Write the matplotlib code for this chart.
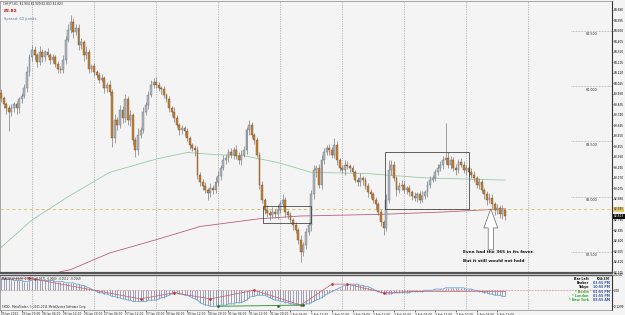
import matplotlib.pyplot as plt
from matplotlib.patches import Rectangle, Polygon
from matplotlib.transforms import blended_transform_factory
import numpy as np

# CHFJPY H1, bar 0 = 25 Jan 2012 12:00 ... bar 195 = 6 Feb 2012 15:00
first_open = 83.94
closes = [
    83.89, 83.84, 83.80, 83.77, 83.80, 83.84, 83.80, 83.88, 83.91, 83.98, 84.13, 84.26,
    84.33, 84.28, 84.22, 84.31, 84.26, 84.31, 84.28, 84.24, 84.26, 84.20, 84.16, 84.15,
    84.24, 84.42, 84.51, 84.58, 84.49, 84.53, 84.37, 84.40, 84.28, 84.31, 84.16, 84.18,
    84.13, 84.10, 84.06, 84.07, 83.98, 84.01, 83.95, 83.53, 83.69, 83.65, 83.78, 83.71,
    83.88, 83.69, 83.74, 83.51, 83.42, 83.56, 83.60, 83.77, 83.83, 83.92, 84.01, 84.04,
    84.01, 83.98, 83.97, 83.92, 83.88, 83.80, 83.77, 83.71, 83.65, 83.60, 83.62, 83.59,
    83.53, 83.47, 83.44, 83.42, 83.20, 83.13, 83.10, 83.06, 83.03, 83.08, 83.06, 83.13,
    83.19, 83.26, 83.33, 83.35, 83.40, 83.38, 83.42, 83.37, 83.33, 83.38, 83.42, 83.60,
    83.65, 83.56, 83.51, 83.38, 83.11, 82.97, 82.88, 82.85, 82.83, 82.86, 82.84, 82.88,
    82.93, 82.97, 82.86, 82.83, 82.79, 82.74, 82.70, 82.61, 82.50, 82.56, 82.68, 82.74,
    83.02, 83.24, 83.26, 83.11, 83.33, 83.40, 83.44, 83.42, 83.38, 83.47, 83.33, 83.26,
    83.24, 83.29, 83.28, 83.26, 83.22, 83.15, 83.13, 83.17, 83.15, 83.10, 83.04, 83.02,
    82.97, 82.93, 82.86, 82.77, 82.72, 82.97, 83.24, 83.29, 83.17, 83.06, 83.10, 83.11,
    83.06, 83.08, 83.04, 83.01, 82.99, 83.02, 82.97, 83.01, 83.04, 83.11, 83.15, 83.17,
    83.22, 83.26, 83.29, 83.33, 83.35, 83.29, 83.33, 83.26, 83.24, 83.31, 83.29, 83.24,
    83.26, 83.22, 83.20, 83.17, 83.11, 83.13, 83.06, 83.02, 82.97, 82.99, 82.93, 82.88,
    82.90, 82.84, 82.88, 82.823,
]
# wicks beyond the body, in pips (0.01)
upper_wick = [
    3, 2, 2, 3, 4, 2, 3, 2, 3, 4, 5, 3,  4, 3, 2, 5, 3, 2, 4, 2, 3, 2, 3, 2,
    4, 3, 5, 6, 4, 3, 3, 4, 2, 5, 3, 2,  3, 2, 3, 4, 2, 3, 5, 2, 6, 3, 5, 4,
    5, 3, 4, 2, 3, 6, 3, 4, 3, 4, 5, 3,  4, 3, 2, 3, 2, 3, 2, 4, 3, 2, 3, 2,
    3, 2, 2, 3, 4, 2, 3, 3, 2, 4, 3, 5,  4, 3, 5, 4, 3, 4, 3, 5, 3, 4, 4, 3,
    4, 3, 2, 3, 2, 3, 2, 4, 3, 5, 3, 4,  3, 5, 3, 2, 3, 2, 3, 2, 4, 3, 4, 3,
    4, 5, 3, 4, 5, 4, 3, 4, 3, 6, 3, 2,  3, 4, 3, 2, 3, 2, 3, 4, 2, 3, 2, 3,
    2, 3, 2, 3, 2, 5, 9, 4, 3, 2, 3, 4,  3, 2, 3, 2, 3, 2, 3, 4, 2, 3, 4, 3,
    3, 4, 3, 4, 32, 5, 4, 3, 4, 3, 4, 3, 3, 2, 4, 3, 2, 4, 3, 2, 3, 4, 3, 2,
    3, 2, 4, 2,
]
lower_wick = [
    3, 4, 5, 18, 4, 3, 5, 4, 3, 2, 3, 4,  3, 4, 5, 3, 4, 3, 2, 4, 3, 3, 4, 3,
    3, 4, 2, 3, 5, 3, 4, 3, 5, 3, 4, 3,  4, 3, 3, 2, 4, 3, 3, 8, 4, 5, 3, 4,
    3, 4, 5, 4, 6, 4, 3, 2, 3, 4, 2, 3,  3, 2, 4, 3, 2, 3, 4, 3, 2, 4, 3, 4,
    3, 4, 3, 5, 4, 3, 4, 3, 6, 3, 4, 3,  3, 4, 2, 3, 4, 3, 4, 3, 3, 4, 2, 3,
    4, 3, 3, 2, 4, 3, 4, 3, 4, 2, 3, 4,  3, 2, 4, 3, 3, 4, 3, 4, 9, 4, 3, 3,
    5, 4, 6, 3, 4, 3, 2, 4, 3, 3, 4, 3,  3, 4, 3, 4, 3, 2, 3, 3, 4, 3, 4, 3,
    3, 4, 3, 4, 7, 3, 3, 4, 3, 5, 3, 4,  3, 4, 3, 4, 3, 4, 3, 2, 3, 4, 3, 2,
    3, 2, 3, 4, 3, 3, 4, 3, 4, 3, 2, 3,  4, 3, 3, 4, 3, 4, 3, 4, 5, 3, 4, 5,
    4, 3, 4, 3,
]

# moving averages (bar index, price)
ma_fast_bars = [0, 12, 26, 42, 60, 72, 83, 94, 107, 120, 141, 164, 195]
ma_fast_vals = [82.54, 82.79, 83.00, 83.22, 83.34, 83.40, 83.38, 83.37, 83.31, 83.22, 83.21, 83.17, 83.15]
ma_slow_bars = [0, 23, 27, 42, 60, 77, 100, 116, 147, 170, 195]
ma_slow_vals = [82.05, 82.32, 82.34, 82.49, 82.61, 82.73, 82.80, 82.825, 82.84, 82.86, 82.89]

# MACD histogram per bar
macd = [
    0.10, 0.10, 0.09, 0.09, 0.09, 0.08, 0.08, 0.08,
    0.08, 0.07, 0.07, 0.08, 0.08, 0.09, 0.09, 0.08, 0.08, 0.08, 0.08, 0.08,
    0.08, 0.07, 0.07, 0.07, 0.07, 0.06, 0.06, 0.06,
    0.06, 0.05, 0.05, 0.04, 0.04, 0.03,
    0.02, 0.01, 0.00, -0.01, -0.02,
    -0.02, -0.03, -0.03, -0.04, -0.05, -0.05, -0.06, -0.06,
    -0.07, -0.07, -0.08, -0.08, -0.09, -0.09, -0.09, -0.09,
    -0.09, -0.09, -0.08, -0.08, -0.08, -0.08,
    -0.07, -0.06, -0.06, -0.05, -0.04, -0.03, -0.02,
    -0.02, -0.03, -0.03, -0.04, -0.04, -0.05,
    -0.06, -0.07, -0.08, -0.10, -0.11, -0.12, -0.12, -0.13,
    -0.13, -0.13, -0.13, -0.12, -0.12, -0.12,
    -0.11, -0.11, -0.11, -0.10, -0.10, -0.10,
    -0.09, -0.08, -0.06, -0.05, -0.05,
    -0.04, -0.04, -0.04, -0.04,
    -0.05, -0.06, -0.07, -0.08, -0.08, -0.09,
    -0.09, -0.10, -0.10, -0.11, -0.11, -0.12, -0.12, -0.12,
    -0.12, -0.11, -0.11, -0.10, -0.09, -0.08,
    -0.07, -0.06, -0.05, -0.03, -0.02,
    -0.01, 0.00, 0.01, 0.02, 0.03, 0.04,
    0.04, 0.05, 0.05, 0.05,
    0.05, 0.04, 0.04, 0.03, 0.03, 0.02,
    0.01, 0.00, -0.01, -0.02, -0.02, -0.03,
    -0.03, -0.03, -0.02, -0.02, -0.02, -0.02,
    -0.02, -0.02, -0.02, -0.01, -0.01, -0.01, -0.01,
    -0.01, 0.00, 0.00, 0.00, 0.00, 0.01, 0.01, 0.01,
    0.01, 0.02, 0.02, 0.02, 0.02, 0.02, 0.02, 0.02,
    0.02, 0.01, 0.01, 0.01, 0.00, 0.00,
    -0.01, -0.01, -0.02, -0.02, -0.03, -0.03,
    -0.04, -0.04, -0.04, -0.05, -0.05,
]
zig_bars = [0, 11, 13, 54, 67, 81, 98, 116, 128, 134, 148, 160, 195]
zig_vals = [0.09, 0.10, 0.09, -0.07, -0.02, -0.07, 0.00, -0.12, 0.05, 0.05, -0.02, -0.01, -0.01]

day_starts = [12, 36, 60, 84, 108, 132, 156, 180, 204]
date_bars = list(range(0, 196, 8))
date_labels = ['25 Jan 2012', '25 Jan 20:00', '26 Jan 04:00', '26 Jan 12:00', '26 Jan 20:00',
               '27 Jan 04:00', '27 Jan 12:00', '27 Jan 20:00', '30 Jan 04:00', '30 Jan 12:00',
               '30 Jan 20:00', '31 Jan 04:00', '31 Jan 12:00', '31 Jan 20:00', '1 Feb 04:00',
               '1 Feb 12:00', '1 Feb 20:00', '2 Feb 04:00', '2 Feb 12:00', '2 Feb 20:00',
               '3 Feb 04:00', '3 Feb 12:00', '3 Feb 20:00', '6 Feb 04:00', '6 Feb 12:00']
round_levels = [84.5, 84.0, 83.5, 83.0, 82.5]
ask_line = 82.885

W, H = 625, 315
fig = plt.figure(figsize=(W / 100, H / 100), dpi=100)
fig.patch.set_facecolor('#f4f4f4')
ax = fig.add_axes([0, 1 - 273 / H, 612 / W, 272 / H])
ax2 = fig.add_axes([0, 1 - 310 / H, 612 / W, 35 / H], sharex=ax)
for a in (ax, ax2):
    a.set_facecolor('#f4f4f4')
    for s in a.spines.values():
        s.set_color('#888888')
        s.set_linewidth(0.5)
    a.spines['right'].set_color('#333333')
    a.spines['right'].set_linewidth(0.8)
    a.yaxis.tick_right()
    a.tick_params(axis='y', labelsize=2.1, pad=0.4, length=1.0, width=0.4)
ax.spines['bottom'].set_color('#555555')
ax.spines['bottom'].set_linewidth(1.6)
ax2.spines['top'].set_color('#555555')
ax2.spines['top'].set_linewidth(1.0)

n = len(closes)
x = np.arange(n)
c = np.array(closes)
o = np.array([first_open] + closes[:-1])
hi = np.maximum(o, c) + np.array(upper_wick) / 100
lo = np.minimum(o, c) - np.array(lower_wick) / 100
up = c >= o
body = np.maximum(np.abs(c - o), 0.005)
base = np.minimum(o, c)

# day separators
for d in day_starts:
    ax.axvline(d, color='#8a8a8a', lw=0.5, ls=(0, (1, 1.5)), zorder=1)
    ax2.axvline(d, color='#8a8a8a', lw=0.5, ls=(0, (1, 1.5)), zorder=1)

ax.plot(ma_fast_bars, ma_fast_vals, color='#98cba6', lw=0.6, zorder=1.5)
ax.plot(ma_slow_bars, ma_slow_vals, color='#b8607a', lw=0.6, zorder=1.5)
ax.axhline(ask_line, color='#dcc060', lw=0.6, dashes=(4, 3), zorder=1.5)

ax.vlines(x, lo, hi, color='#707070', lw=0.45, zorder=2)
ax.bar(x[up], body[up], bottom=base[up], width=0.72, color='#adb5bd', edgecolor='#6e757c', lw=0.3, zorder=3)
ax.bar(x[~up], body[~up], bottom=base[~up], width=0.72, color='#c47f36', edgecolor='#7d5426', lw=0.3, zorder=3)

# round-number markers on the right
ax.hlines(round_levels, 220.5, 236.5, colors='#8899aa', lw=0.5, linestyles=(0, (1, 1.2)))
for lv in round_levels:
    ax.text(228.5, lv - 0.012, f'{lv:.3f}', fontsize=2.4, ha='center', va='top', color='#333333')

# boxes
ax.add_patch(Rectangle((101.3, 82.759), 18.5, 0.159, fill=False, ec='#3a3a3a', lw=0.55, zorder=4))
ax.add_patch(Rectangle((148.4, 82.89), 32.6, 0.514, fill=False, ec='#3a3a3a', lw=0.55, zorder=4))

# hollow arrow
ax.add_patch(Polygon([(189.5, 82.89), (186.8, 82.717), (188.5, 82.717), (188.5, 82.518),
                      (190.5, 82.518), (190.5, 82.717), (192.2, 82.717)],
                     closed=True, fc='white', ec='#666666', lw=0.5, zorder=5))
ax.text(178.7, 82.50, 'Even had the 365 in its favor.', fontsize=3.1, fontweight='bold', va='center', color='#111111')
ax.text(178.7, 82.415, 'But it still would not hold', fontsize=3.1, fontweight='bold', va='center', color='#111111')

ax.set_xlim(-0.4, 236.4)
ax.set_ylim(82.309, 84.771)
ax.set_yticks(np.round(82.315 + 0.095 * np.arange(26), 3))
ax.yaxis.set_major_formatter(plt.FormatStrFormatter('%.3f'))
ax.tick_params(axis='x', bottom=False, labelbottom=False)

tr = blended_transform_factory(ax.transAxes, ax.transData)
ax.text(1.003, ask_line, '82.885', transform=tr, fontsize=2.1, va='center', ha='left', color='#333333',
        bbox=dict(boxstyle='square,pad=0.15', fc='#e6c870', ec='none'), clip_on=False)
ax.text(1.003, closes[-1], '82.823', transform=tr, fontsize=2.1, va='center', ha='left', color='white',
        bbox=dict(boxstyle='square,pad=0.15', fc='#111111', ec='none'), clip_on=False)

# header texts
fig.text(3 / W, 1 - 4 / H, 'CHFJPY,H1  82.904 82.909 82.803 82.823', fontsize=2.1, va='center', color='#222222')
fig.text(4 / W, 1 - 11.5 / H, '82.82', fontsize=3.2, fontweight='bold', va='center', color='#cc1111')
fig.text(4 / W, 1 - 19 / H, 'Spread: 60 points.', fontsize=2.6, va='center', color='#5577aa')

# MACD subwindow
ax2.vlines(x, 0, macd, color='#6b7090', lw=0.45, zorder=2)
ax2.plot(x, macd, color='#6aa6d8', lw=0.6, zorder=3)
ax2.axhline(0, color='#d06060', lw=0.5, ls=(0, (1, 1.2)), zorder=2)
ax2.plot(zig_bars, zig_vals, color='#c85a6a', lw=0.5, zorder=3)
ax2.plot(zig_bars[1:11], zig_vals[1:11], 'o', ms=0.9, color='#c0303a', zorder=4)
ax2.plot([84, 117], [-0.13, -0.12], color='#3c9a3c', lw=0.7, zorder=4)
ax2.plot([84, 107, 117], [-0.13, -0.125, -0.12], 'o', ms=0.9, color='#1f6b1f', zorder=5)
ax2.set_ylim(-0.16, 0.124)
ax2.set_yticks([0.124, 0.0, -0.1299])
ax2.set_yticklabels(['0.1240', '0.00', '-0.1299'], fontsize=2.0)
ax2.set_xticks(date_bars)
ax2.set_xticklabels(date_labels, fontsize=2.1, ha='left')
ax2.tick_params(axis='x', length=1.2, width=0.4, pad=0.6, colors='#222222')
ax2.text(0.004, 0.93, 'MACD(12,26,9)  0.0000  -0.0471  0.0000  -0.0512  -0.0169', transform=ax2.transAxes,
         fontsize=2.0, va='top', color='#222222')
ax2.text(0.004, 0.03, 'FXDD - MetaTrader, \u00a9 2001-2011 MetaQuotes Software Corp.', transform=ax2.transAxes,
         fontsize=2.0, va='bottom', color='#222222')

# clock panel
rows = [('Bar Left', '[04:39]', '#111111', '#111111'),
        ('Broker', '03:55 PM', '#111111', '#3355aa'),
        ('Tokyo', '10:55 PM', '#111111', '#3355aa'),
        ('* Berlin', '02:55 PM', '#33aa33', '#3355aa'),
        ('* London', '01:55 PM', '#33aa33', '#3355aa'),
        ('* New York', '08:55 AM', '#33aa33', '#3355aa')]
for k, (name, val, c1, c2) in enumerate(rows):
    yy = 1 - (279 + 4.2 * k) / H
    fig.text(589 / W, yy, name, fontsize=2.3, fontweight='bold', ha='right', va='center', color=c1)
    fig.text(610 / W, yy, val, fontsize=2.3, fontweight='bold', ha='right', va='center', color=c2)

fig.savefig('out.png', dpi=100, facecolor=fig.get_facecolor())
